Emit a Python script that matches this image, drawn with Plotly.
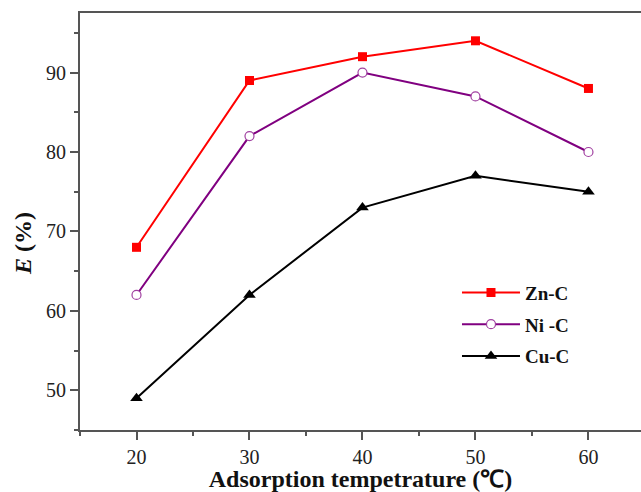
import plotly.graph_objects as go

# Adsorption temperature (°C) and removal efficiency E (%)
temperature = [20, 30, 40, 50, 60]
zn_c = [68, 89, 92, 94, 88]
ni_c = [62, 82, 90, 87, 80]
cu_c = [49, 62, 73, 77, 75]

x_ticks = [20, 30, 40, 50, 60]
y_ticks = [50, 60, 70, 80, 90]

FONT = "Liberation Serif, Times New Roman, serif"
AXIS = "#555555"

fig = go.Figure()

fig.add_trace(go.Scatter(
    x=temperature, y=zn_c, name="<b>Zn-C</b>", legendgroup="zn",
    mode="lines+markers",
    line=dict(color="#ff0000", width=2),
    marker=dict(symbol="square", size=9, color="#ff0000"),
))
fig.add_trace(go.Scatter(
    x=temperature, y=ni_c, name="<b>Ni -C</b>", legendgroup="ni",
    mode="lines+markers",
    line=dict(color="#800080", width=2),
    marker=dict(symbol="circle", size=9, color="white",
                line=dict(color="#a040a0", width=1.2)),
))
fig.add_trace(go.Scatter(
    x=temperature, y=cu_c, name="<b>Cu-C</b>", legendgroup="cu",
    mode="lines+markers",
    line=dict(color="#000000", width=2),
    marker=dict(symbol="triangle-up", size=11, color="#000000"),
))

fig.update_xaxes(
    range=[15, 64.65], tickvals=x_ticks, ticktext=[str(v) for v in x_ticks],
    showgrid=False, zeroline=False,
    showline=True, linecolor=AXIS, linewidth=2, mirror=True,
    ticks="outside", ticklen=8, tickwidth=1.5, tickcolor=AXIS,
    minor=dict(dtick=5, tick0=15, ticks="outside", ticklen=4, tickwidth=1.5, tickcolor=AXIS),
    tickfont=dict(family=FONT, size=20, color="#222222"),
    title=dict(text="<b>Adsorption tempetrature (℃)</b>",
               font=dict(family=FONT, size=24, color="#111111"), standoff=4),
)
fig.update_yaxes(
    range=[45, 97.5], tickvals=y_ticks, ticktext=[str(v) for v in y_ticks],
    showgrid=False, zeroline=False,
    showline=True, linecolor=AXIS, linewidth=2, mirror=False,
    ticks="outside", ticklen=8, tickwidth=1.5, tickcolor=AXIS,
    minor=dict(dtick=5, tick0=45, ticks="outside", ticklen=4, tickwidth=1.5, tickcolor=AXIS),
    tickfont=dict(family=FONT, size=20, color="#222222"),
)

fig.add_annotation(
    text="<b><i>E</i> (%)</b>", textangle=-90,
    xref="paper", yref="paper", x=-0.102, y=0.448,
    xanchor="center", yanchor="middle", showarrow=False,
    font=dict(family=FONT, size=24, color="#111111"),
)

fig.update_layout(
    width=641, height=492,
    margin=dict(l=80, r=0, t=13, b=62),
    paper_bgcolor="white", plot_bgcolor="white",
    showlegend=True,
    legend=dict(
        x=0.672, y=0.375, xanchor="left", yanchor="top",
        bgcolor="rgba(0,0,0,0)", borderwidth=0,
        font=dict(family=FONT, size=19, color="#111111"),
        itemwidth=58, tracegroupgap=4, traceorder="grouped",
    ),
)

fig.write_html("out.html")
